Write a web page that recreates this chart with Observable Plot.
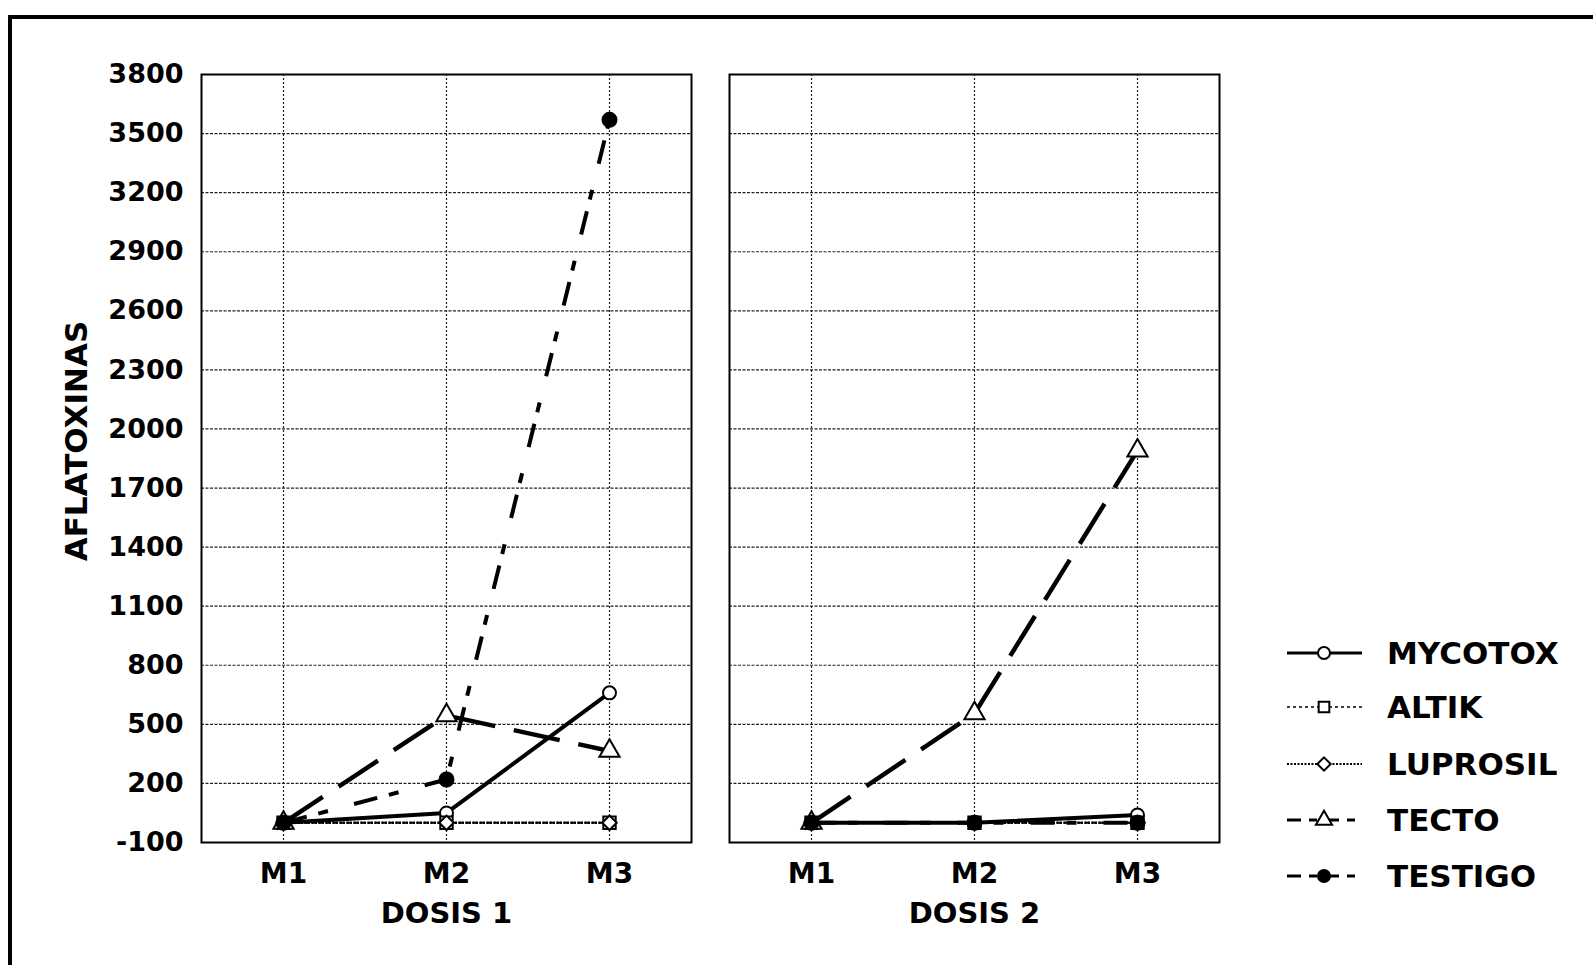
<!DOCTYPE html>
<html>
<head>
<meta charset="utf-8">
<script src="https://cdn.jsdelivr.net/npm/d3@7"></script>
<script src="https://cdn.jsdelivr.net/npm/@observablehq/plot@0.6"></script>
<style>
  body { margin: 0; background: #fff; }
  #wrap { position: relative; width: 1593px; height: 965px; overflow: hidden; background: #fff; }
  #border { position: absolute; left: 8px; top: 15px; width: 1700px; height: 1100px;
            border-top: 4px solid #000; border-left: 4px solid #000; }
  #chart { position: absolute; left: 0; top: 0; }
  #ylabel { position: absolute; left: 76px; top: 441px; transform: translate(-50%, -50%) rotate(-90deg);
            font-family: "DejaVu Sans"; font-weight: bold; font-size: 31px; white-space: nowrap; line-height: 1; color: #000; }
  .lg { position: absolute; left: 1285px; height: 40px; display: flex; align-items: center;
        font-family: "DejaVu Sans"; font-weight: bold; font-size: 31px; line-height: 1; color: #000; }
  .lg svg { margin-right: 23px; }
</style>
</head>
<body>
<div id="wrap">
  <div id="border"></div>
  <div id="chart"></div>
  <div id="ylabel">AFLATOXINAS</div>
</div>
<script>
// ---------- data ----------
const doses = ["DOSIS 1", "DOSIS 2"];
const months = ["M1", "M2", "M3"];
const seriesNames = ["MYCOTOX", "ALTIK", "LUPROSIL", "TECTO", "TESTIGO"];
// values per dose: [M1, M2, M3]
const mycotox  = [[0, 50, 660], [0, 0, 40]];
const altik    = [[0, 0, 0],    [0, 0, 0]];
const luprosil = [[0, 0, 0],    [0, 0, 0]];
const tecto    = [[0, 545, 365],[0, 555, 1890]];
const testigo  = [[0, 220, 3570],[0, 0, 0]];
const yTicks = [-100, 200, 500, 800, 1100, 1400, 1700, 2000, 2300, 2600, 2900, 3200, 3500, 3800];

const seriesValues = {MYCOTOX: mycotox, ALTIK: altik, LUPROSIL: luprosil, TECTO: tecto, TESTIGO: testigo};

// ---------- styles ----------
const styles = {
  MYCOTOX:  {width: 4,   dash: null,          symbol: "circle",   d3sym: d3.symbolCircle,   fill: "#fff", r: 6.5, lgDash: null,       lgWidth: 3},
  ALTIK:    {width: 2,   dash: "4,3",         symbol: "square",   d3sym: d3.symbolSquare,   fill: "#fff", r: 7,   lgDash: "3,3",      lgWidth: 1.5},
  LUPROSIL: {width: 2.5, dash: "2,1.5",       symbol: "diamond2", d3sym: d3.symbolDiamond2, fill: "#fff", r: 6.5, lgDash: "2,1.5",    lgWidth: 2},
  TECTO:    {width: 4.5, dash: "47,19",       symbol: "triangle", d3sym: d3.symbolTriangle, fill: "#fff", r: 7.5, lgDash: "14,8,8,8", lgWidth: 3},
  TESTIGO:  {width: 4,   dash: "24,12,10,27", symbol: "circle",   d3sym: d3.symbolCircle,   fill: "#000", r: 7,   lgDash: "14,8,8,8", lgWidth: 3}
};

// ---------- table ----------
const rows = [];
for (const s of seriesNames) {
  doses.forEach((dose, di) => {
    months.forEach((m, mi) => {
      rows.push({series: s, dose, month: m, value: seriesValues[s][di][mi]});
    });
  });
}

const lineMarks = seriesNames.map(s => Plot.line(rows, {
  filter: d => d.series === s, x: "month", y: "value",
  stroke: "#000", strokeWidth: styles[s].width, strokeDasharray: styles[s].dash || undefined,
  strokeLinecap: "butt"
}));
const dotMarks = seriesNames.map(s => Plot.dot(rows, {
  filter: d => d.series === s, x: "month", y: "value",
  symbol: styles[s].symbol, r: styles[s].r, fill: styles[s].fill, stroke: "#000", strokeWidth: 2
}));

const fmt = d => (d < 0 ? "-" + Math.abs(d) : String(d));

const chart = Plot.plot({
  width: 1593, height: 965,
  marginTop: 74, marginBottom: 123, marginLeft: 200, marginRight: 373,
  facet: {data: rows, x: "dose"},
  fx: {domain: doses, paddingInner: 0.0718, paddingOuter: 0, label: null},
  x: {type: "point", domain: months, padding: 0.5, label: null},
  y: {domain: [-100, 3800], label: null},
  style: {fontFamily: "DejaVu Sans", fontWeight: "bold", color: "#000", background: "transparent", overflow: "visible"},
  marks: [
    Plot.gridY(yTicks, {stroke: "#222", strokeOpacity: 1, strokeWidth: 1.2, strokeDasharray: "3,1.5"}),
    Plot.gridX(months, {stroke: "#222", strokeOpacity: 1, strokeWidth: 1.2, strokeDasharray: "2,2"}),
    Plot.frame({stroke: "#000", strokeWidth: 2}),
    Plot.axisY(yTicks, {tickSize: 0, tickPadding: 18, fontSize: 27, fontWeight: "bold", label: null, tickFormat: fmt}),
    Plot.axisX({tickSize: 0, tickPadding: 21, fontSize: 28, fontWeight: "bold", label: null}),
    Plot.axisFx({anchor: "bottom", tickSize: 0, tickPadding: 60, fontSize: 29, fontWeight: "bold", label: null}),
    ...lineMarks,
    ...dotMarks
  ]
});
document.getElementById("chart").appendChild(chart);

// ---------- legend ----------
const legendCenters = [653, 707, 764, 820, 876];
const wrap = d3.select("#wrap");
seriesNames.forEach((s, i) => {
  const st = styles[s];
  const row = wrap.append("div").attr("class", "lg").style("top", (legendCenters[i] - 20) + "px");
  const svg = row.append("svg").attr("width", 79).attr("height", 24);
  svg.append("line").attr("x1", 2).attr("x2", 77).attr("y1", 12).attr("y2", 12)
    .attr("stroke", "#000").attr("stroke-width", st.lgWidth)
    .attr("stroke-dasharray", st.lgDash);
  svg.append("path").attr("transform", "translate(39,12)")
    .attr("d", d3.symbol(st.d3sym, Math.PI * 6 * 6)())
    .attr("fill", st.fill).attr("stroke", "#000").attr("stroke-width", 2);
  row.append("span").text(s);
});
</script>
</body>
</html>
